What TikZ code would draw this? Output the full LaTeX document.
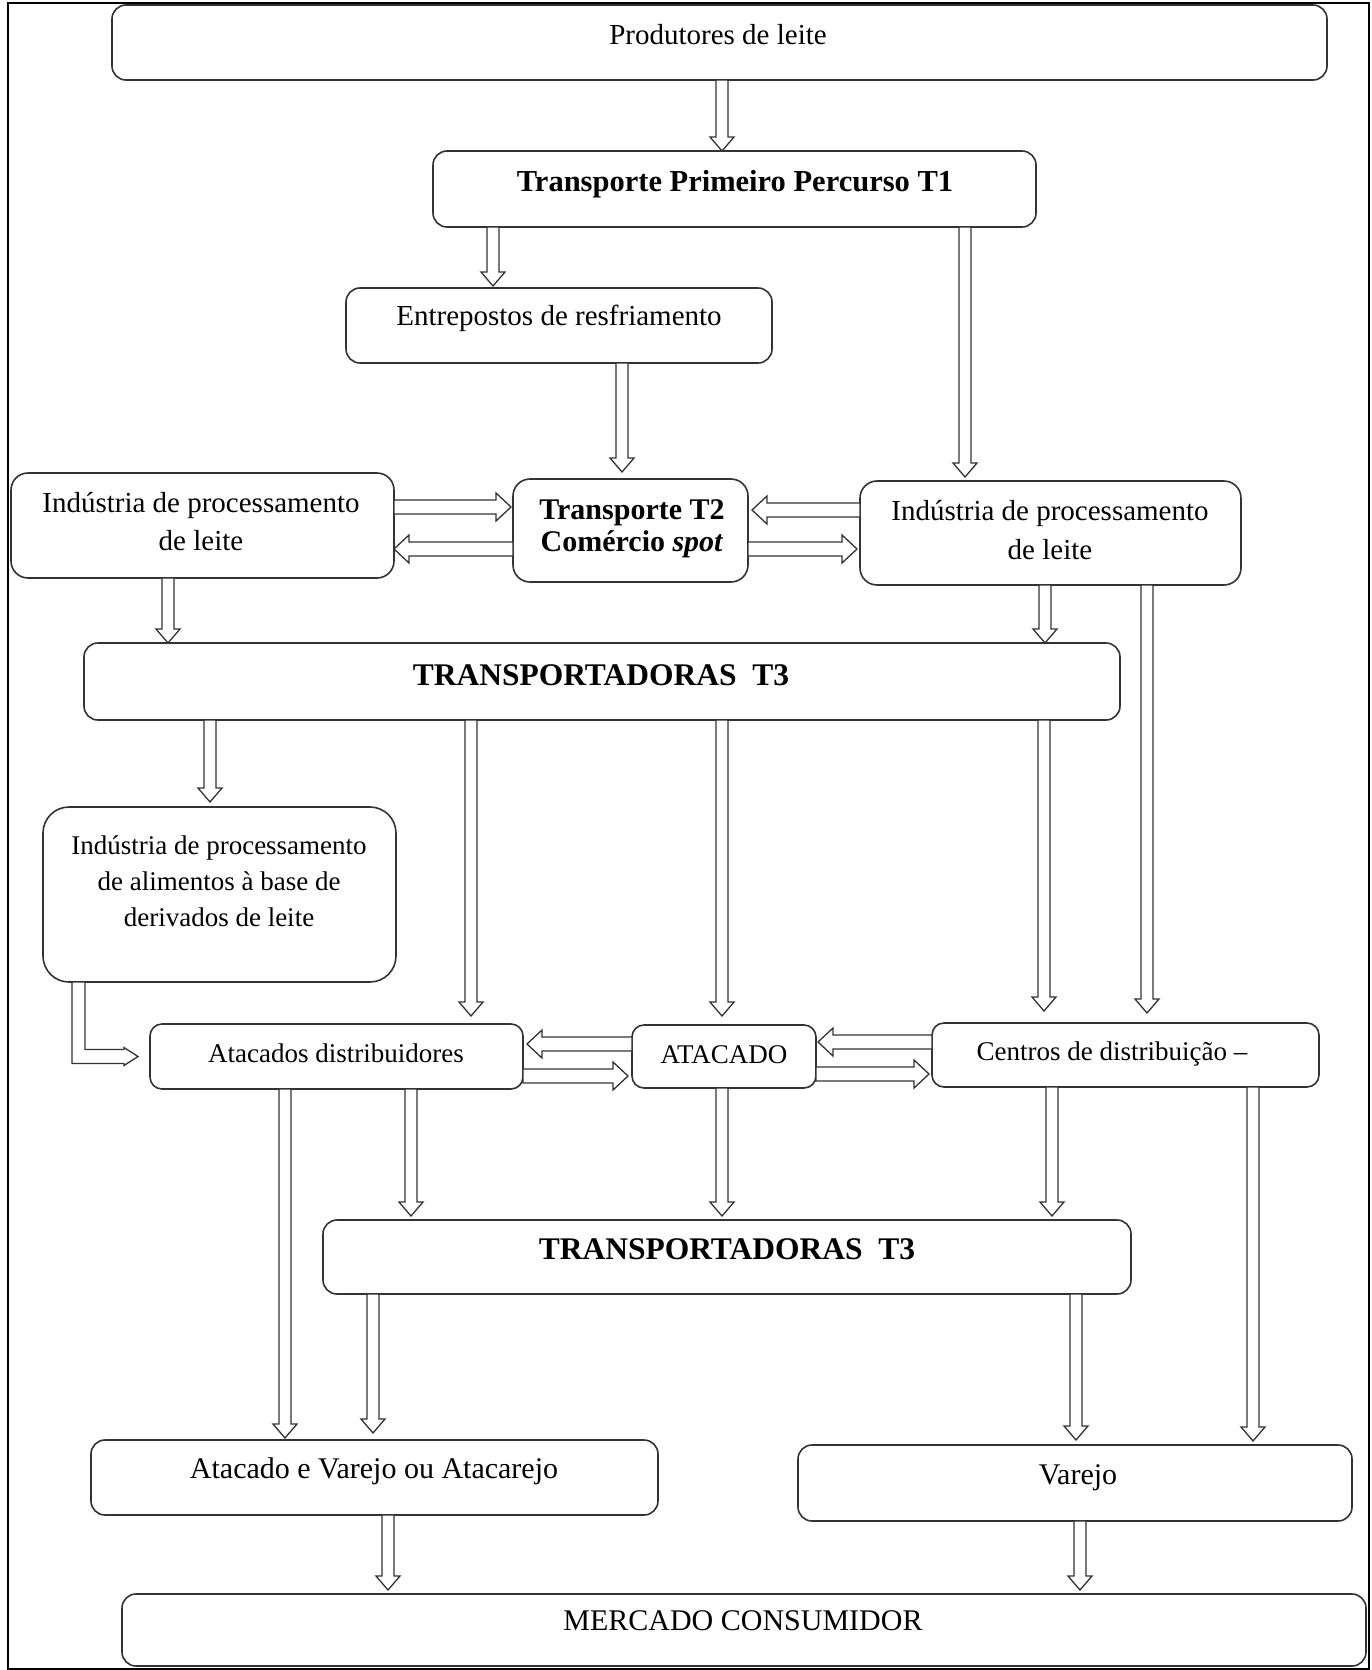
\documentclass[tikz,border=0pt]{standalone}
\usepackage{fontspec}
\setmainfont{Liberation Serif}
\usetikzlibrary{calc,fit}

\tikzset{
  panel/.style={draw=black!80, line width=1.6pt, rounded corners=14pt, inner sep=0pt, outer sep=0pt},
  lbl/.style={inner sep=0pt, align=center, font=\fontsize{29}{38}\selectfont},
  lblb/.style={lbl, font=\fontsize{29}{38}\selectfont\bfseries},
  one/.style={text height=0.7em, text depth=0.2em, yshift=-8pt},
  blk/.style={draw=black!80, line width=1.3pt, fill=white, line join=miter},
}

% hollow block arrow pointing down: x position, source anchor, target anchor, gap before target
\newcommand\downarr[4]{%
  \draw[blk] let \p1=(#2), \p2=(#3) in
    ({#1pt-6pt},\y1) -- ({#1pt-6pt},{\y2+#4pt+14pt}) -- ({#1pt-12pt},{\y2+#4pt+14pt})
    -- ({#1pt},{\y2+#4pt}) -- ({#1pt+12pt},{\y2+#4pt+14pt}) -- ({#1pt+6pt},{\y2+#4pt+14pt})
    -- ({#1pt+6pt},\y1) -- cycle;}

% hollow block arrow pointing sideways: y position, source anchor, target anchor, gap before target
\newcommand\sidearr[4]{%
  \draw[blk] let \p1=(#2), \p2=(#3), \n1={sign(\x2-\x1)} in
    (\x1,{-#1pt+7pt}) -- ({\x2-\n1*(#4pt+15pt)},{-#1pt+7pt})
    -- ({\x2-\n1*(#4pt+15pt)},{-#1pt+14pt}) -- ({\x2-\n1*#4pt},{-#1pt})
    -- ({\x2-\n1*(#4pt+15pt)},{-#1pt-14pt}) -- ({\x2-\n1*(#4pt+15pt)},{-#1pt-7pt})
    -- (\x1,{-#1pt-7pt}) -- cycle;}

\begin{document}
\begin{tikzpicture}[x=1pt, y=-1pt]
\useasboundingbox (0,0) rectangle (1372,1670);
\draw[line width=2.6pt] (8,3) rectangle (1369,1669);

% boxes
\node[panel, fit={(112,5)(1327,80)}] (prod) {};
\node[panel, fit={(433,151)(1036,227)}] (t1) {};
\node[panel, fit={(346,288)(772,363)}] (entre) {};
\node[panel, rounded corners=17pt, fit={(11,473)(394,578)}] (indL) {};
\node[panel, rounded corners=17pt, fit={(513,479)(748,582)}] (t2) {};
\node[panel, rounded corners=17pt, fit={(860,481)(1241,585)}] (indR) {};
\node[panel, fit={(84,643)(1120,720)}] (tr1) {};
\node[panel, rounded corners=26pt, fit={(43,807)(396,982)}] (alim) {};
\node[panel, rounded corners=12pt, fit={(150,1024)(523,1089)}] (atdist) {};
\node[panel, rounded corners=12pt, fit={(632,1025)(816,1088)}] (atac) {};
\node[panel, rounded corners=12pt, fit={(932,1023)(1319,1087)}] (cent) {};
\node[panel, fit={(323,1220)(1131,1294)}] (tr2) {};
\node[panel, fit={(91,1440)(658,1515)}] (avar) {};
\node[panel, fit={(798,1445)(1352,1521)}] (var) {};
\node[panel, fit={(122,1594)(1366,1666)}] (merc) {};

% texts
\node[lbl, one] (prodL) at (718,34) {Produtores de leite};
\node[lblb, one, font=\fontsize{30.5}{38}\selectfont\bfseries] (t1L) at (735,181) {Transporte Primeiro Percurso T1};
\node[lbl, one] (entreL) at (559,315) {Entrepostos de resfriamento};
\node[lbl, font=\fontsize{29}{38}\selectfont] (indLL) at (201,522) {Indústria de processamento\\de leite};
\node[lblb, font=\fontsize{30}{32}\selectfont\bfseries] (t2L) at (632,529) {Transporte T2\\Comércio \textit{spot}};
\node[lbl, font=\fontsize{29}{39}\selectfont] (indRL) at (1050,530) {Indústria de processamento\\de leite};
\node[lblb, one, font=\fontsize{31.5}{38}\selectfont\bfseries] (tr1L) at (601,675) {TRANSPORTADORAS~~T3};
\node[lbl, font=\fontsize{27}{36}\selectfont] (alimL) at (219,881) {Indústria de processamento\\de alimentos à base de\\derivados de leite};
\node[lbl, one, font=\fontsize{27}{36}\selectfont] (atdistL) at (336,1052) {Atacados distribuidores};
\node[lbl, one, font=\fontsize{27}{36}\selectfont] (atacL) at (724,1053) {ATACADO};
\node[lbl, one, font=\fontsize{27}{36}\selectfont] (centL) at (1112,1050) {Centros de distribuição –};
\node[lblb, one, font=\fontsize{31.5}{38}\selectfont\bfseries] (tr2L) at (727,1249) {TRANSPORTADORAS~~T3};
\node[lbl, one, font=\fontsize{30}{38}\selectfont] (avarL) at (374,1468) {Atacado e Varejo ou Atacarejo};
\node[lbl, one, font=\fontsize{30}{38}\selectfont] (varL) at (1078,1474) {Varejo};
\node[lbl, one, font=\fontsize{30}{38}\selectfont] (mercL) at (743,1620) {MERCADO CONSUMIDOR};

% vertical flows
\downarr{722}{prod.south}{t1.north}{0}
\downarr{493}{t1.south}{entre.north}{2}
\downarr{965}{t1.south}{indR.north}{4}
\downarr{622}{entre.south}{t2.north}{7}
\downarr{168}{indL.south}{tr1.north}{0}
\downarr{1045}{indR.south}{tr1.north}{0}
\downarr{1147}{indR.south}{cent.north}{10}
\downarr{210}{tr1.south}{alim.north}{5}
\downarr{471}{tr1.south}{atdist.north}{8}
\downarr{722}{tr1.south}{atac.north}{9}
\downarr{1044}{tr1.south}{cent.north}{12}
\downarr{285}{atdist.south}{avar.north}{2}
\downarr{411}{atdist.south}{tr2.north}{4}
\downarr{722}{atac.south}{tr2.north}{4}
\downarr{1052}{cent.south}{tr2.north}{4}
\downarr{1253}{cent.south}{var.north}{4}
\downarr{373}{tr2.south}{avar.north}{7}
\downarr{1076}{tr2.south}{var.north}{5}
\downarr{388}{avar.south}{merc.north}{4}
\downarr{1080}{var.south}{merc.north}{4}

% sideways flows
\sidearr{507}{indL.east}{t2.west}{2}
\sidearr{549}{t2.west}{indL.east}{0}
\sidearr{510}{indR.west}{t2.east}{4}
\sidearr{549}{t2.east}{indR.west}{3}
\sidearr{1044}{atac.west}{atdist.east}{4}
\sidearr{1076}{atdist.east}{atac.west}{4}
\sidearr{1042}{cent.west}{atac.east}{2}
\sidearr{1074}{atac.east}{cent.west}{3}

% elbow flow from the food industry to the distributors
\draw[blk] let \p1=(alim.south), \p2=(atdist.west) in
  (72pt,\y1) -- (72pt,{\y2-7pt}) -- ({\x2-26pt},{\y2-7pt}) -- ({\x2-26pt},{\y2-9pt})
  -- ({\x2-12pt},\y2) -- ({\x2-26pt},{\y2+9pt}) -- ({\x2-26pt},{\y2+7pt})
  -- (85pt,{\y2+7pt}) -- (85pt,\y1) -- cycle;
\end{tikzpicture}
\end{document}
